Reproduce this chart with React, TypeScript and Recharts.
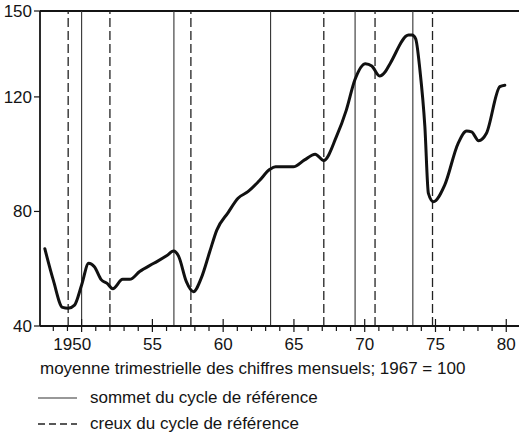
import React from "react";
import { LineChart, Line, XAxis, YAxis, ReferenceLine } from "recharts";

const years = [
  1947.4, 1948.0, 1948.65, 1949.05, 1949.5, 1950.0, 1950.5, 1950.9, 1951.4, 1951.8,
  1952.2, 1952.9, 1953.4, 1954.1, 1955.1, 1956.0, 1956.5, 1956.85, 1957.4, 1957.9,
  1958.45, 1959.05, 1959.55, 1960.35, 1961.05, 1961.75, 1962.55, 1963.3, 1963.7, 1964.95,
  1965.75, 1966.5, 1967.1, 1968.0, 1968.7, 1969.3, 1970.05, 1970.5, 1971.05, 1971.45,
  1971.8, 1973.1, 1973.35, 1973.6, 1973.9, 1974.25, 1974.5, 1974.85, 1975.65, 1976.6,
  1977.2, 1977.55, 1978.05, 1978.6, 1979.55, 1979.9,
];

const indexValues = [
  67, 56, 46.5, 46.2, 47.3, 54.3, 61.9, 60.7, 56.1, 54.9,
  53.0, 56.3, 56.3, 59, 61.9, 64.5, 66.2, 64.4, 55.5, 52.0,
  56.7, 65.9, 73.5, 79.6, 84.6, 86.9, 90.7, 94.7, 95.6, 95.6,
  98.0, 100.0, 97.8, 106.1, 115.4, 125.9, 131.6, 130.8, 127.3, 128.8,
  131.7, 141.6, 141.6, 140.3, 129.4, 109.6, 86.3, 83.4, 89.2, 103.8,
  108.1, 107.8, 104.7, 107.3, 123.6, 124.1,
];

// sommets (trait plein) et creux (tirets) du cycle de référence
const peaks = [1950.0, 1956.52, 1963.35, 1969.32, 1973.4];
const troughs = [1949.05, 1952.0, 1957.72, 1967.11, 1970.73, 1974.79];

const yTicks = [40, 80, 120, 150];
const xTicks = Array.from({ length: 33 }, (_, i) => 1948 + i);

const caption = "moyenne trimestrielle des chiffres mensuels; 1967 = 100";
const peakLabel = "sommet du cycle de référence";
const troughLabel = "creux du cycle de référence";

const data = years.map((year, i) => ({ year, value: indexValues[i] }));

const FONT = "'Liberation Sans', Arial, Helvetica, sans-serif";
const INK = "#141414";

function YearTick(props: any) {
  const { x, y, payload } = props;
  const yr: number = payload.value;
  const major = yr % 5 === 0;
  return (
    <g>
      <line
        x1={x}
        x2={x}
        y1={major ? y - 7 : y}
        y2={y + (major ? 6 : 5)}
        stroke={INK}
        strokeWidth={1.2}
      />
      {major && (
        <text
          x={yr === 1950 ? x + 9.5 : x}
          y={y + 24}
          textAnchor={yr === 1950 ? "end" : "middle"}
          fontSize={17}
          fontFamily={FONT}
          fill={INK}
        >
          {yr === 1950 ? "1950" : String(yr % 100)}
        </text>
      )}
    </g>
  );
}

export default function App() {
  return (
    <div
      style={{
        position: "absolute",
        left: 0,
        top: 0,
        width: 519,
        height: 436,
        background: "#fff",
        fontFamily: FONT,
      }}
    >
      <LineChart
        width={519}
        height={436}
        data={data}
        margin={{ top: 11, right: 0, bottom: 80, left: 0 }}
      >
        <XAxis
          dataKey="year"
          type="number"
          domain={[1947.06, 1980.9]}
          ticks={xTicks}
          interval={0}
          allowDataOverflow
          height={30}
          tickSize={0}
          tickMargin={0}
          tickLine={false}
          tick={<YearTick />}
          axisLine={{ stroke: INK, strokeWidth: 2 }}
        />
        <YAxis
          type="number"
          domain={[40, 150]}
          ticks={yTicks}
          interval={0}
          allowDataOverflow
          width={40}
          tickSize={6}
          tickMargin={2}
          tickLine={{ stroke: INK, strokeWidth: 1.2 }}
          axisLine={{ stroke: INK, strokeWidth: 1.8 }}
          tick={{ fontSize: 17, fill: INK, fontFamily: FONT }}
        />
        <ReferenceLine y={150} stroke={INK} strokeWidth={1.8} />
        {peaks.map((p) => (
          <ReferenceLine key={"p" + p} x={p} stroke="#333" strokeWidth={1.1} />
        ))}
        {troughs.map((t) => (
          <ReferenceLine
            key={"t" + t}
            x={t}
            stroke="#222"
            strokeWidth={1.3}
            strokeDasharray="9 4"
          />
        ))}
        <Line
          type="monotone"
          dataKey="value"
          stroke="#111"
          strokeWidth={3}
          strokeLinejoin="round"
          strokeLinecap="round"
          dot={false}
          activeDot={false}
          isAnimationActive={false}
        />
      </LineChart>
      <svg
        width={519}
        height={436}
        style={{ position: "absolute", left: 0, top: 0, pointerEvents: "none" }}
      >
        <text x={40} y={374} fontSize={17} fontFamily={FONT} fill={INK}>
          {caption}
        </text>
        <line x1={38} x2={77} y1={398} y2={398} stroke="#333" strokeWidth={1.1} />
        <text x={90} y={403} fontSize={17} fontFamily={FONT} fill={INK}>
          {peakLabel}
        </text>
        <line
          x1={38}
          x2={77}
          y1={424}
          y2={424}
          stroke="#222"
          strokeWidth={1.3}
          strokeDasharray="7 4"
        />
        <text x={90} y={429} fontSize={17} fontFamily={FONT} fill={INK}>
          {troughLabel}
        </text>
      </svg>
    </div>
  );
}
